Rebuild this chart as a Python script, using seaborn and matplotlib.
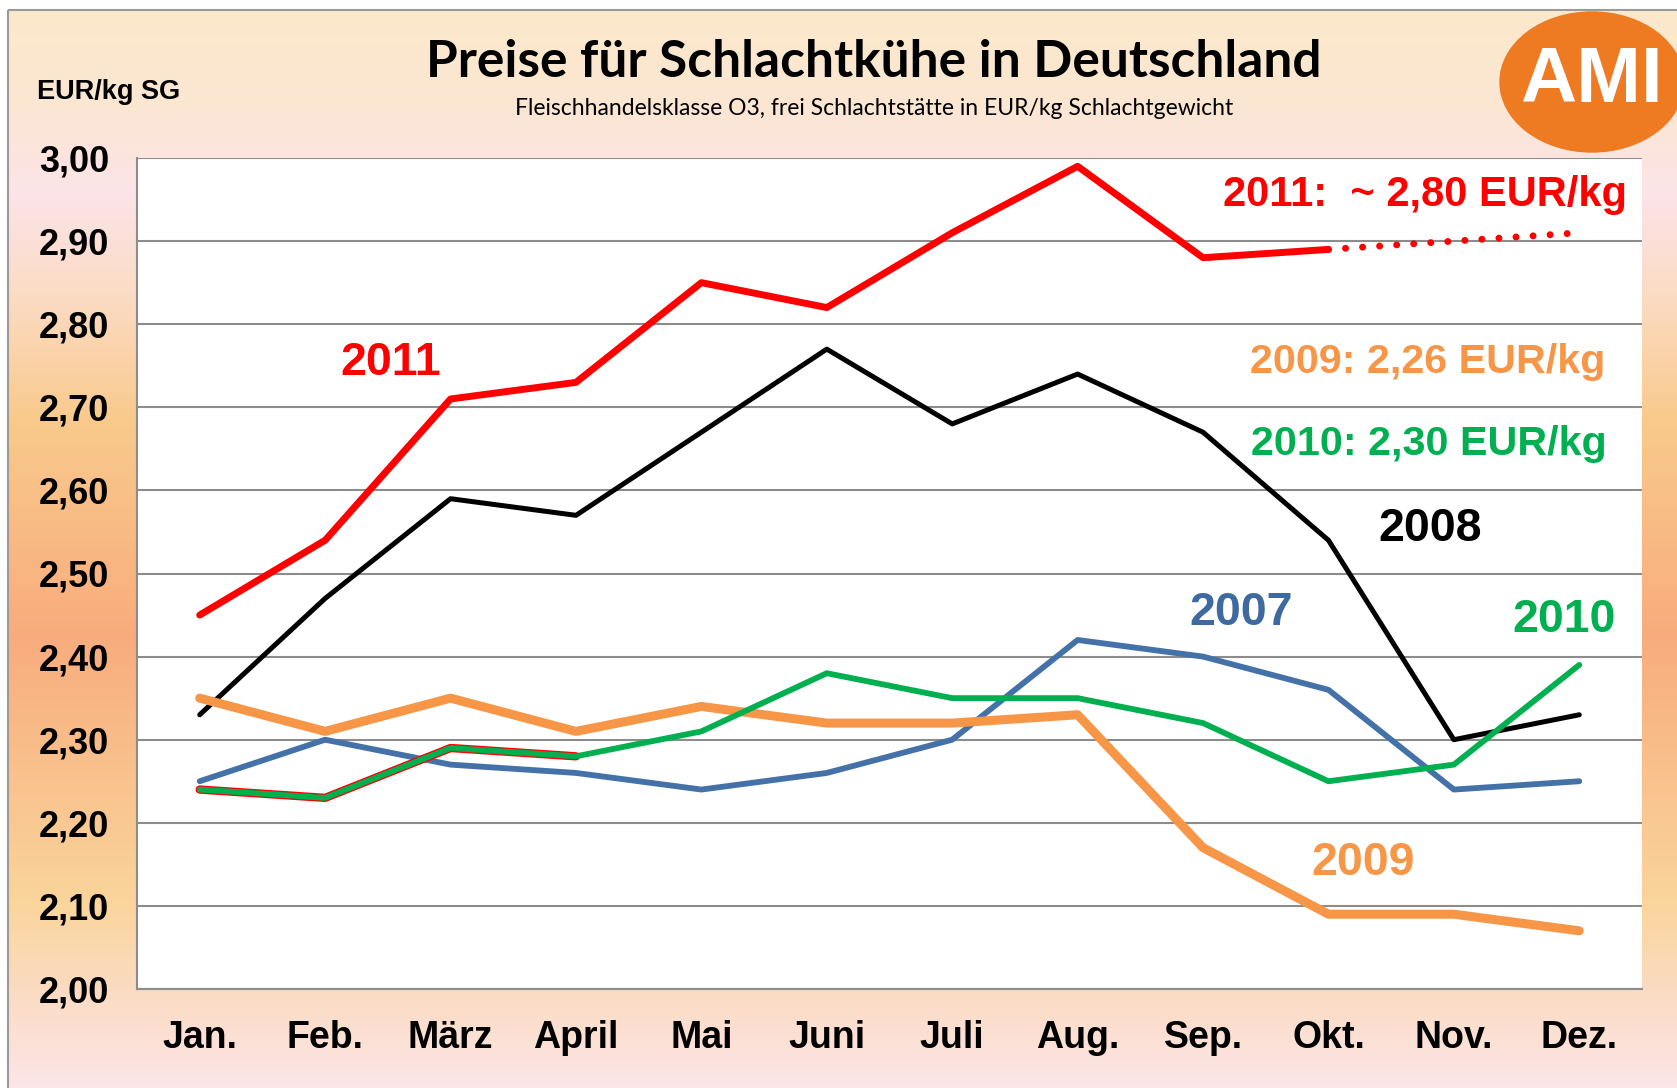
import numpy as np
import matplotlib
matplotlib.use('Agg')
import matplotlib.pyplot as plt
from matplotlib.colors import LinearSegmentedColormap
from matplotlib.patches import Ellipse, Rectangle
import seaborn as sns

# monthly prices, EUR/kg carcass weight
months = ['Jan.', 'Feb.', 'März', 'April', 'Mai', 'Juni',
          'Juli', 'Aug.', 'Sep.', 'Okt.', 'Nov.', 'Dez.']
prices_2007 = [2.25, 2.30, 2.27, 2.26, 2.24, 2.26, 2.30, 2.42, 2.40, 2.36, 2.24, 2.25]
prices_2008 = [2.33, 2.47, 2.59, 2.57, 2.67, 2.77, 2.68, 2.74, 2.67, 2.54, 2.30, 2.33]
prices_2009 = [2.35, 2.31, 2.35, 2.31, 2.34, 2.32, 2.32, 2.33, 2.17, 2.09, 2.09, 2.07]
prices_2010 = [2.24, 2.23, 2.29, 2.28, 2.31, 2.38, 2.35, 2.35, 2.32, 2.25, 2.27, 2.39]
prices_2011 = [2.45, 2.54, 2.71, 2.73, 2.85, 2.82, 2.91, 2.99, 2.88, 2.89]
forecast_2011 = [2.89, 2.90, 2.91]          # Okt. - Dez., dotted
forecast_months = [9, 10, 11]
y_ticks = [2.00, 2.10, 2.20, 2.30, 2.40, 2.50, 2.60, 2.70, 2.80, 2.90, 3.00]

RED = '#FF0000'
BLUE = '#4472A8'
ORANGE = '#F79646'
GREEN = '#00B050'

sns.set_style('white')
plt.rcParams['font.family'] = ['Liberation Sans', 'DejaVu Sans']
plt.rcParams['text.color'] = 'black'
plt.rcParams['xtick.labelcolor'] = 'black'
plt.rcParams['ytick.labelcolor'] = 'black'

W, H = 1677, 1088
fig = plt.figure(figsize=(W / 100, H / 100), dpi=100)

# background panel with vertical gradient
bg = fig.add_axes([0, 0, 1, 1], zorder=0)
bg.set_xlim(0, W)
bg.set_ylim(H, 0)
bg.axis('off')
grad_cmap = LinearSegmentedColormap.from_list('panel', [
    (0.00, '#FBE9CB'), (0.09, '#FBE6D3'), (0.17, '#FCE4E8'),
    (0.26, '#FBDCC6'), (0.38, '#F9CA8C'), (0.58, '#F8AC7D'),
    (0.83, '#FAD59C'), (0.92, '#FBDCC6'), (1.00, '#FCE5E6')])
grad = np.linspace(0, 1, 256).reshape(-1, 1)
bg.imshow(grad, cmap=grad_cmap, aspect='auto', extent=[8, W, H, 10])
bg.add_patch(Rectangle((8, 10), W, H, fill=False, edgecolor='#9A9A9A', lw=1.5))

# AMI logo
bg.add_patch(Ellipse((1592, 82), 184, 140, color='#EE7A22'))
bg.text(1591, 82, 'AMI', color='white', fontsize=56, fontweight='bold',
        ha='center', va='center')

# titles
fig.text(0.521, 0.943, 'Preise für Schlachtkühe in Deutschland',
         fontsize=37, fontweight='bold', family=['Lato', 'DejaVu Sans'],
         ha='center', va='center', color='black')
fig.text(0.521, 0.900,
         'Fleischhandelsklasse O3, frei Schlachtstätte in EUR/kg Schlachtgewicht',
         fontsize=16.5, family=['Lato', 'DejaVu Sans'], ha='center', va='center')
fig.text(0.065, 0.915, 'EUR/kg SG', fontsize=19.5, fontweight='bold',
         ha='center', va='center')

# plot area
ax = fig.add_axes([137 / W, 1 - 989 / H, (1642 - 137) / W, (989 - 158) / H], zorder=1)
ax.set_facecolor('white')

x = np.arange(len(months))
sns.lineplot(x=x, y=prices_2008, ax=ax, color='black', lw=3.6,
             solid_capstyle='round', solid_joinstyle='round')
sns.lineplot(x=x, y=prices_2007, ax=ax, color=BLUE, lw=4.2,
             solid_capstyle='round', solid_joinstyle='round')
sns.lineplot(x=x, y=prices_2009, ax=ax, color=ORANGE, lw=6.5,
             solid_capstyle='round', solid_joinstyle='round')
# red rim under the first months of 2010
sns.lineplot(x=x[:4], y=prices_2010[:4], ax=ax, color=RED, lw=6.0,
             solid_capstyle='round', solid_joinstyle='round')
sns.lineplot(x=x, y=prices_2010, ax=ax, color=GREEN, lw=4.2,
             solid_capstyle='round', solid_joinstyle='round')
sns.lineplot(x=x[:len(prices_2011)], y=prices_2011, ax=ax, color=RED, lw=5.0,
             solid_capstyle='round', solid_joinstyle='round')
sns.lineplot(x=forecast_months, y=forecast_2011, ax=ax, color=RED, lw=5.0,
             linestyle=(0, (0.01, 2.45)), dash_capstyle='round')

ax.set_xlim(-0.5, 11.5)
ax.set_ylim(2.0, 3.0)
ax.set_xlabel('')
ax.set_ylabel('')

ax.set_yticks(y_ticks)
ax.set_yticklabels([f'{v:.2f}'.replace('.', ',') for v in y_ticks])
ax.set_xticks(x)
ax.set_xticklabels(months)
ax.set_xticks(np.arange(-0.5, 12, 2), minor=True)

ax.grid(axis='y', color='#8C8C8C', lw=1.5)
ax.set_axisbelow(True)
for side in ['top', 'right']:
    ax.spines[side].set_visible(False)
for side in ['left', 'bottom']:
    ax.spines[side].set_color('#8C8C8C')
    ax.spines[side].set_linewidth(1.5)

ax.tick_params(axis='y', which='major', length=7, width=1.5, color='#8C8C8C',
               pad=13, labelsize=26, labelcolor='black')
ax.tick_params(axis='x', which='major', length=0, pad=22, labelsize=27,
               labelcolor='black')
ax.tick_params(axis='x', which='minor', length=8, width=1.5, color='#8C8C8C')
for lab in ax.get_xticklabels() + ax.get_yticklabels():
    lab.set_fontweight('bold')

# series labels
ax.text(1.52, 2.753, '2011', color=RED, fontsize=33.5, fontweight='bold',
        ha='center', va='center')
ax.text(11.38, 2.955, '2011:  ~ 2,80 EUR/kg', color=RED, fontsize=30,
        fontweight='bold', ha='right', va='center')
ax.text(11.21, 2.755, '2009: 2,26 EUR/kg', color=ORANGE, fontsize=29.7,
        fontweight='bold', ha='right', va='center')
ax.text(11.22, 2.656, '2010: 2,30 EUR/kg', color=GREEN, fontsize=29.7,
        fontweight='bold', ha='right', va='center')
ax.text(9.81, 2.553, '2008', color='black', fontsize=33.5, fontweight='bold',
        ha='center', va='center')
ax.text(8.30, 2.453, '2007', color='#3F6AA0', fontsize=33.5, fontweight='bold',
        ha='center', va='center')
ax.text(10.88, 2.444, '2010', color=GREEN, fontsize=33.5, fontweight='bold',
        ha='center', va='center')
ax.text(9.28, 2.152, '2009', color=ORANGE, fontsize=33.5, fontweight='bold',
        ha='center', va='center')

fig.savefig('out.png', dpi=100)
